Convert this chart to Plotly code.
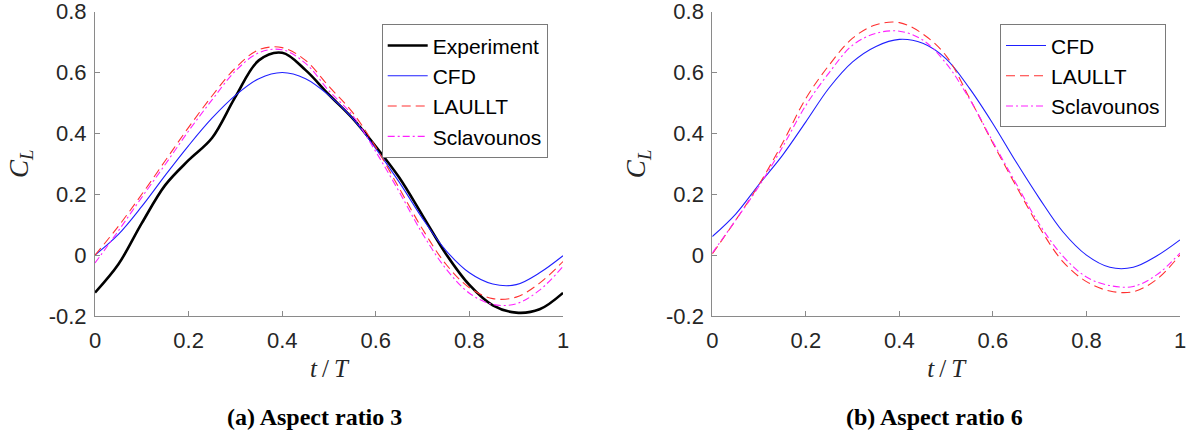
import plotly.graph_objects as go

# ---------------- data ----------------
t = [0.0, 0.05, 0.1, 0.15, 0.2, 0.25, 0.3, 0.35, 0.4, 0.45, 0.5,
     0.55, 0.6, 0.65, 0.7, 0.75, 0.8, 0.85, 0.9, 0.95, 1.0]

# (a) Aspect ratio 3
ar3_experiment = [-0.123, -0.03, 0.105, 0.23, 0.312, 0.385, 0.52, 0.64, 0.665, 0.608, 0.527,
                  0.45, 0.357, 0.255, 0.13, 0.004, -0.098, -0.165, -0.189, -0.178, -0.124]
ar3_cfd = [0.0, 0.068, 0.16, 0.262, 0.36, 0.45, 0.525, 0.58, 0.6, 0.58, 0.525,
           0.45, 0.35, 0.24, 0.12, 0.015, -0.058, -0.095, -0.097, -0.058, -0.002]
ar3_laullt = [0.0, 0.095, 0.2, 0.31, 0.42, 0.523, 0.615, 0.675, 0.682, 0.64, 0.554,
              0.47, 0.355, 0.22, 0.085, -0.03, -0.107, -0.143, -0.138, -0.092, -0.021]
ar3_sclav = [-0.026, 0.08, 0.19, 0.298, 0.408, 0.51, 0.605, 0.665, 0.675, 0.63, 0.54,
             0.46, 0.34, 0.208, 0.07, -0.045, -0.125, -0.162, -0.16, -0.115, -0.037]

# (b) Aspect ratio 6
ar6_cfd = [0.061, 0.135, 0.233, 0.328, 0.438, 0.55, 0.635, 0.686, 0.709, 0.696, 0.645,
           0.548, 0.432, 0.305, 0.185, 0.076, 0.0, -0.04, -0.04, -0.003, 0.05]
ar6_laullt = [0.004, 0.115, 0.232, 0.368, 0.515, 0.625, 0.713, 0.757, 0.764, 0.727, 0.655,
              0.516, 0.368, 0.226, 0.09, -0.022, -0.087, -0.118, -0.12, -0.08, 0.001]
ar6_sclav = [0.007, 0.115, 0.227, 0.355, 0.492, 0.6, 0.69, 0.729, 0.736, 0.707, 0.63,
             0.513, 0.372, 0.234, 0.1, -0.004, -0.072, -0.1, -0.103, -0.065, 0.007]

x_ticks = [0, 0.2, 0.4, 0.6, 0.8, 1]
x_ticktext = ["0", "0.2", "0.4", "0.6", "0.8", "1"]
y_ticks = [-0.2, 0, 0.2, 0.4, 0.6, 0.8]
y_ticktext = ["-0.2", "0", "0.2", "0.4", "0.6", "0.8"]
captions = ["(a) Aspect ratio 3", "(b) Aspect ratio 6"]

# ---------------- styling ----------------
W, H = 1186, 435
AX_GRAY = "#8a8a8a"
TXT = "#262626"
SANS = "Liberation Sans, Arial, sans-serif"
SERIF = "Liberation Serif, Times New Roman, serif"

fig = go.Figure()

def add(x, y, name, color, width, dash, xa, ya, legend):
    fig.add_trace(go.Scatter(
        x=x, y=y, name=name, mode="lines",
        line=dict(color=color, width=width, dash=dash, shape="spline", smoothing=1.0),
        xaxis=xa, yaxis=ya, legend=legend))

add(t, ar3_experiment, "Experiment", "#000000", 2.6, "solid", "x", "y", "legend")
add(t, ar3_cfd, "CFD", "#1f1fff", 1.1, "solid", "x", "y", "legend")
add(t, ar3_laullt, "LAULLT", "#ff3030", 1.1, "9px,5px", "x", "y", "legend")
add(t, ar3_sclav, "Sclavounos", "#ff20ff", 1.1, "7px,3px,2px,3px", "x", "y", "legend")

add(t, ar6_cfd, "CFD", "#1f1fff", 1.1, "solid", "x2", "y2", "legend2")
add(t, ar6_laullt, "LAULLT", "#ff3030", 1.1, "9px,5px", "x2", "y2", "legend2")
add(t, ar6_sclav, "Sclavounos", "#ff20ff", 1.1, "7px,3px,2px,3px", "x2", "y2", "legend2")

ydom = [(H - 316) / H, (H - 11.7) / H]

def xaxis(domain, anchor):
    return dict(domain=domain, anchor=anchor, range=[0, 1], automargin=False,
                tickvals=x_ticks, ticktext=x_ticktext, ticklabeloverflow="allow",
                ticklabelstandoff=5,
                showline=True, linecolor=AX_GRAY, linewidth=1,
                ticks="inside", ticklen=5, tickcolor=AX_GRAY, tickwidth=1,
                showgrid=False, zeroline=False,
                tickfont=dict(family=SANS, size=22, color=TXT),
                title=dict(text="<i>t</i>\u2009/\u2009<i>T</i>", standoff=7,
                           font=dict(family=SERIF, size=25, color=TXT)))

def yaxis(anchor):
    return dict(domain=ydom, anchor=anchor, range=[-0.2, 0.8], automargin=False,
                tickvals=y_ticks, ticktext=y_ticktext, ticklabeloverflow="allow",
                ticklabelstandoff=3,
                showline=True, linecolor=AX_GRAY, linewidth=1,
                ticks="inside", ticklen=5, tickcolor=AX_GRAY, tickwidth=1,
                showgrid=False, zeroline=False,
                tickfont=dict(family=SANS, size=22, color=TXT),
                title=dict(text="<i>C</i><sub><i>L</i></sub>", standoff=12,
                           font=dict(family=SERIF, size=27, color=TXT)))

legend_common = dict(bgcolor="white", bordercolor="#7a7a7a", borderwidth=1,
                     font=dict(family=SANS, size=21, color="#000000"),
                     itemwidth=40, tracegroupgap=0,
                     xanchor="left", yanchor="top")

fig.update_layout(
    width=W, height=H,
    margin=dict(l=0, r=0, t=0, b=0, autoexpand=False),
    paper_bgcolor="white", plot_bgcolor="white",
    showlegend=True,
    xaxis=xaxis([95 / W, 563 / W], "y"),
    yaxis=yaxis("x"),
    xaxis2=xaxis([712.3 / W, 1180 / W], "y2"),
    yaxis2=yaxis("x2"),
    legend=dict(x=381.7 / W, y=1 - 24.3 / H, **legend_common),
    legend2=dict(x=1000 / W, y=1 - 24.3 / H, **legend_common),
    annotations=[
        dict(text="<b>" + captions[0] + "</b>", x=314 / W, y=1 - 417 / H,
             xref="paper", yref="paper", showarrow=False,
             xanchor="center", yanchor="middle",
             font=dict(family=SERIF, size=24, color="#000000")),
        dict(text="<b>" + captions[1] + "</b>", x=934 / W, y=1 - 417 / H,
             xref="paper", yref="paper", showarrow=False,
             xanchor="center", yanchor="middle",
             font=dict(family=SERIF, size=24, color="#000000")),
    ],
)

fig.write_html("out.html", config={"displayModeBar": False},
               post_script="document.body.style.margin='0';")
